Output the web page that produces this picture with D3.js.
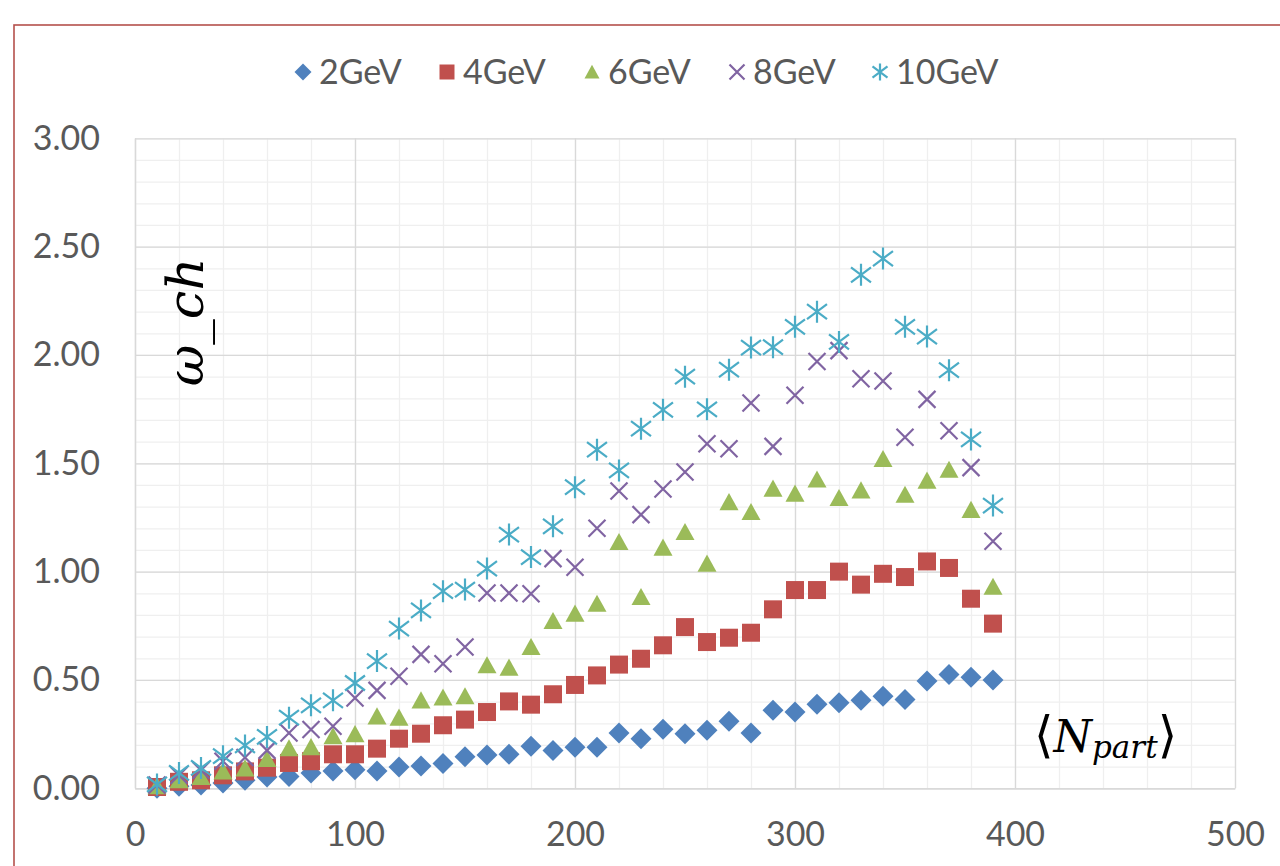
<!DOCTYPE html>
<html>
<head>
<meta charset="utf-8">
<script src="https://cdn.jsdelivr.net/npm/d3@7"></script>
<style>
  body { margin: 0; background: #fff; }
  svg { display: block; }
  .tick text { font-family: Lato, "Open Sans", sans-serif; fill: #595959; }
</style>
</head>
<body>
<div id="chart"></div>
<script>
// <N_part> centrality bins
const npart = [10, 20, 30, 40, 50, 60, 70, 80, 90, 100, 110, 120, 130, 140, 150, 160, 170, 180, 190, 200,
  210, 220, 230, 240, 250, 260, 270, 280, 290, 300, 310, 320, 330, 340, 350, 360, 370, 380, 390];

const gev2 = [0.00, 0.01, 0.015, 0.025, 0.037, 0.052, 0.055, 0.071, 0.08, 0.086, 0.08, 0.098, 0.103, 0.114, 0.146,
  0.154, 0.157, 0.194, 0.174, 0.19, 0.19, 0.255, 0.229, 0.272, 0.252, 0.268, 0.309, 0.255, 0.36, 0.352,
  0.388, 0.395, 0.406, 0.425, 0.41, 0.495, 0.525, 0.512, 0.50];
const gev4 = [0.006, 0.03, 0.037, 0.06, 0.078, 0.095, 0.117, 0.125, 0.157, 0.157, 0.183, 0.229, 0.252, 0.291, 0.317,
  0.352, 0.401, 0.386, 0.434, 0.477, 0.521, 0.571, 0.598, 0.66, 0.744, 0.675, 0.695, 0.718, 0.826, 0.915,
  0.915, 1.00, 0.94, 0.99, 0.975, 1.047, 1.017, 0.875, 0.76];
const gev6 = [0.01, 0.037, 0.052, 0.078, 0.092, 0.135, 0.185, 0.19, 0.24, 0.25, 0.332, 0.326, 0.406, 0.419, 0.425,
  0.568, 0.557, 0.652, 0.772, 0.806, 0.852, 1.137, 0.883, 1.111, 1.183, 1.037, 1.321, 1.275, 1.383, 1.36,
  1.425, 1.34, 1.375, 1.52, 1.355, 1.42, 1.47, 1.285, 0.93];
const gev8 = [0.015, 0.06, 0.083, 0.125, 0.142, 0.175, 0.255, 0.271, 0.286, 0.417, 0.452, 0.517, 0.618, 0.575, 0.652,
  0.901, 0.901, 0.898, 1.06, 1.02, 1.20, 1.372, 1.263, 1.381, 1.46, 1.59, 1.567, 1.778, 1.578, 1.814,
  1.97, 2.02, 1.89, 1.88, 1.62, 1.795, 1.65, 1.48, 1.14];
const gev10 = [0.018, 0.071, 0.094, 0.148, 0.198, 0.237, 0.326, 0.383, 0.406, 0.486, 0.587, 0.737, 0.821, 0.91, 0.917,
  1.014, 1.171, 1.067, 1.209, 1.39, 1.563, 1.467, 1.66, 1.747, 1.90, 1.749, 1.932, 2.034, 2.036, 2.13,
  2.20, 2.06, 2.37, 2.445, 2.13, 2.085, 1.93, 1.61, 1.305];

const seriesNames = ["2GeV", "4GeV", "6GeV", "8GeV", "10GeV"];
const xTicks = [0, 100, 200, 300, 400, 500];
const yTicks = [0, 0.5, 1.0, 1.5, 2.0, 2.5, 3.0];

const series = [
  { name: seriesNames[0], values: gev2, color: "#4f81bd", marker: "diamond" },
  { name: seriesNames[1], values: gev4, color: "#c0504d", marker: "square" },
  { name: seriesNames[2], values: gev6, color: "#9bbb59", marker: "triangle" },
  { name: seriesNames[3], values: gev8, color: "#8064a2", marker: "x" },
  { name: seriesNames[4], values: gev10, color: "#4bacc6", marker: "star" }
];

const W = 1280, H = 866;
const plot = { left: 135, top: 138.3, right: 1235, bottom: 788.3 };
const labelFont = 34;

const svg = d3.select("#chart").append("svg")
  .attr("width", W)
  .attr("height", H);

// outer chart frame (cut off on the right and bottom)
svg.append("rect")
  .attr("x", 14).attr("y", 25)
  .attr("width", 1400).attr("height", 1000)
  .attr("fill", "#fff")
  .attr("stroke", "#b5504c")
  .attr("stroke-width", 1.6);

const x = d3.scaleLinear().domain([0, 500]).range([plot.left, plot.right]);
const y = d3.scaleLinear().domain([0, 3]).range([plot.bottom, plot.top]);

// minor gridlines
const gMinorX = svg.append("g")
  .attr("transform", `translate(0,${plot.bottom})`)
  .call(d3.axisBottom(x).tickValues(d3.range(0, 501, 20)).tickSize(-(plot.bottom - plot.top)).tickFormat(""));
const gMinorY = svg.append("g")
  .attr("transform", `translate(${plot.left},0)`)
  .call(d3.axisLeft(y).tickValues(d3.range(0, 31).map(d => d / 10)).tickSize(-(plot.right - plot.left)).tickFormat(""));
[gMinorX, gMinorY].forEach(g => {
  g.select(".domain").remove();
  g.selectAll("line").attr("stroke", "#efefef").attr("stroke-width", 1.3);
});

// major gridlines
const gMajorX = svg.append("g")
  .attr("transform", `translate(0,${plot.bottom})`)
  .call(d3.axisBottom(x).tickValues(xTicks).tickSize(-(plot.bottom - plot.top)).tickFormat(""));
const gMajorY = svg.append("g")
  .attr("transform", `translate(${plot.left},0)`)
  .call(d3.axisLeft(y).tickValues(yTicks).tickSize(-(plot.right - plot.left)).tickFormat(""));
[gMajorX, gMajorY].forEach(g => {
  g.select(".domain").remove();
  g.selectAll("line").attr("stroke", "#d9d9d9").attr("stroke-width", 1.3);
});

// x axis labels
const xAxis = svg.append("g")
  .attr("transform", `translate(0,${plot.bottom})`)
  .call(d3.axisBottom(x).tickValues(xTicks).tickSize(0).tickPadding(34));
xAxis.select(".domain").attr("stroke", "#d9d9d9").attr("stroke-width", 1.5);
xAxis.selectAll("text").attr("font-size", labelFont);

// y axis labels
const yAxis = svg.append("g")
  .attr("transform", `translate(${plot.left},0)`)
  .call(d3.axisLeft(y).tickValues(yTicks).tickSize(0).tickPadding(35).tickFormat(d3.format(".2f")));
yAxis.select(".domain").attr("stroke", "#d9d9d9").attr("stroke-width", 1.3);
yAxis.selectAll("text").attr("font-size", labelFont);

// marker drawing
function drawMarker(sel, type, color, s) {
  if (type === "diamond") {
    sel.append("path")
      .attr("d", d3.symbol(d3.symbolSquare, s * s / 2)())
      .attr("transform", "rotate(45)")
      .attr("fill", color);
  } else if (type === "square") {
    sel.append("path")
      .attr("d", d3.symbol(d3.symbolSquare, s * s)())
      .attr("fill", color);
  } else if (type === "triangle") {
    const h = s * 0.85;
    sel.append("path")
      .attr("d", `M0,${-h / 2 - 1}L${s / 2},${h / 2}L${-s / 2},${h / 2}Z`)
      .attr("fill", color);
  } else if (type === "x") {
    const r = s / 2;
    sel.append("path")
      .attr("d", `M${-r},${-r}L${r},${r}M${-r},${r}L${r},${-r}`)
      .attr("stroke", color).attr("stroke-width", 2.2).attr("fill", "none");
  } else if (type === "star") {
    const r = s / 2;
    sel.append("path")
      .attr("d", `M0,${-r - 1}L0,${r + 1}M${-r},${-r * 0.75}L${r},${r * 0.75}M${-r},${r * 0.75}L${r},${-r * 0.75}`)
      .attr("stroke", color).attr("stroke-width", 2.2).attr("fill", "none");
  }
}

const markerSize = { diamond: 21, square: 18, triangle: 19, x: 17, star: 20 };

series.forEach(sr => {
  const g = svg.append("g");
  g.selectAll("g")
    .data(npart.map((n, i) => ({ n, v: sr.values[i] })))
    .join("g")
    .attr("transform", d => `translate(${x(d.n)},${y(d.v)})`)
    .each(function () { drawMarker(d3.select(this), sr.marker, sr.color, markerSize[sr.marker]); });
});

// legend
const legendX = [303, 447, 592, 737, 880];
const legend = svg.append("g").attr("transform", "translate(0,72)");
series.forEach((sr, i) => {
  const item = legend.append("g").attr("transform", `translate(${legendX[i]},0)`);
  drawMarker(item, sr.marker, sr.color, sr.marker === "diamond" ? 17 : 15);
  item.append("text")
    .attr("x", 16)
    .attr("dy", "0.36em")
    .attr("font-family", "Lato, 'Open Sans', sans-serif")
    .attr("font-size", labelFont)
    .attr("fill", "#595959")
    .text(sr.name);
});

// y axis title (math italic)
svg.append("text")
  .attr("transform", "translate(203,322) rotate(-90)")
  .attr("text-anchor", "middle")
  .attr("font-family", "'DejaVu Serif', serif")
  .attr("font-style", "italic")
  .attr("font-size", 51)
  .attr("fill", "#000")
  .text("ω_ch");

// x axis title
const xt = svg.append("text")
  .attr("x", 1034).attr("y", 752)
  .attr("font-family", "'DejaVu Serif', serif")
  .attr("fill", "#000");
xt.append("tspan").attr("font-size", 50).attr("font-family", "'DejaVu Sans', sans-serif").text("⟨");
xt.append("tspan").attr("font-size", 44).attr("font-style", "italic").text("N");
xt.append("tspan").attr("font-size", 31).attr("font-style", "italic").attr("dy", 6).text("part");
xt.append("tspan").attr("font-size", 50).attr("font-family", "'DejaVu Sans', sans-serif").attr("dy", -6).text("⟩");
</script>
</body>
</html>
